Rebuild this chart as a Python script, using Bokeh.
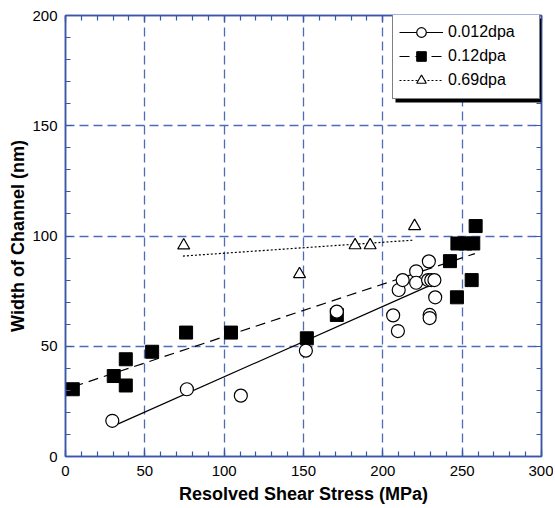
from bokeh.plotting import figure
from bokeh.models import (Legend, LegendItem, LinearAxis, SingleIntervalTicker,
                          BoxAnnotation, CustomJSTickFormatter, Range1d)
from bokeh.embed import file_html
from bokeh.resources import INLINE

# ---- data ----
c012_x = [29.5, 76.5, 110.5, 151.5, 171.0, 206.5, 209.5, 210.0, 212.5, 221.0, 221.0,
          228.5, 229.0, 229.5, 229.5, 230.5, 232.5, 233.0]
c012_y = [16.2, 30.5, 27.6, 48.0, 65.7, 64.0, 56.9, 75.5, 80.0, 84.0, 78.8,
          80.0, 88.5, 64.2, 62.8, 80.0, 80.0, 72.2]

s12_x = [4.6, 30.4, 38.0, 38.0, 54.6, 76.0, 104.3, 152.1, 171.0, 242.3, 246.7,
         247.0, 252.0, 256.0, 257.0, 258.5]
s12_y = [30.5, 36.5, 32.2, 44.1, 47.5, 56.2, 56.2, 53.6, 64.2, 88.6, 72.2,
         96.6, 96.6, 80.0, 96.6, 104.5]

t69_x = [74.5, 147.5, 182.5, 192.0, 220.0]
t69_y = [95.7, 82.7, 95.8, 95.8, 104.5]

fit012_x = [30.4, 232.0]
fit012_y = [13.9, 78.3]
fit12_x = [5.0, 258.0]
fit12_y = [31.7, 92.0]
fit69_x = [74.0, 219.0]
fit69_y = [90.9, 98.1]

labels = ["0.012dpa", "0.12dpa", "0.69dpa"]
x_label = "Resolved Shear Stress (MPa)"
y_label = "Width of Channel (nm)"

FONT = "Liberation Sans"
BLUE = "#3a56a8"
GRID = "#4f6bb8"

p = figure(width=553, height=507, output_backend="svg", toolbar_location=None,
           x_range=Range1d(0, 300), y_range=Range1d(0, 200),
           min_border_left=65, min_border_right=12, min_border_top=15, min_border_bottom=51)
p.background_fill_color = "white"
p.outline_line_color = BLUE
p.outline_line_width = 1.5

def style_axis(ax, show_labels):
    ax.ticker = SingleIntervalTicker(interval=50, num_minor_ticks=5)
    ax.axis_line_color = BLUE
    ax.axis_line_width = 1.5
    ax.major_tick_line_color = BLUE
    ax.minor_tick_line_color = BLUE
    ax.major_tick_line_width = 1.2
    ax.minor_tick_line_width = 1.2
    ax.major_tick_in = 7
    ax.major_tick_out = 0
    ax.minor_tick_in = 5
    ax.minor_tick_out = 0
    if show_labels:
        ax.major_label_text_font = FONT
        ax.major_label_text_font_size = "15px"
        ax.major_label_text_color = "black"
        ax.axis_label_text_font = FONT
        ax.axis_label_text_font_size = "18px"
        ax.axis_label_text_font_style = "bold"
        ax.axis_label_text_color = "black"
    else:
        ax.formatter = CustomJSTickFormatter(code="return ''")
        ax.major_label_text_font_size = "0px"
        ax.major_label_standoff = 0

style_axis(p.xaxis[0], True)
style_axis(p.yaxis[0], True)
p.xaxis[0].axis_label = x_label
p.yaxis[0].axis_label = y_label
p.xaxis[0].major_label_standoff = 9
p.xaxis[0].axis_label_standoff = 5
p.yaxis[0].major_label_standoff = 8
p.yaxis[0].axis_label_standoff = 1

top_ax = LinearAxis()
right_ax = LinearAxis()
style_axis(top_ax, False)
style_axis(right_ax, False)
p.add_layout(top_ax, "above")
p.add_layout(right_ax, "right")

for g in (p.xgrid[0], p.ygrid[0]):
    g.ticker = SingleIntervalTicker(interval=50)
    g.grid_line_color = GRID
    g.grid_line_width = 1.3
    g.grid_line_dash = "9 5"

# fit lines
l1 = p.line(fit012_x, fit012_y, line_color="black", line_width=1.2)
l2 = p.line(fit12_x, fit12_y, line_color="black", line_width=1.2, line_dash="10 6")
l3 = p.line(fit69_x, fit69_y, line_color="black", line_width=1.2, line_dash="2 2")

# markers
m3 = p.scatter(t69_x, t69_y, marker="triangle", size=12, fill_color="white",
               line_color="black", line_width=1.2)
m2 = p.scatter(s12_x, s12_y, marker="square", size=13, fill_color="black",
               line_color="black")
m1 = p.scatter(c012_x, c012_y, marker="circle", size=13, fill_color="white",
               line_color="black", line_width=1.2)

# legend with drop shadow
FW, FH = 476, 441
LW, LH = 146, 84
lx, ly = FW - 3 - LW, FH - LH
shadow = BoxAnnotation(left=lx + 3, right=lx + LW + 3, bottom=ly - 3, top=ly + LH - 3,
                       left_units="screen", right_units="screen",
                       bottom_units="screen", top_units="screen",
                       fill_color="black", fill_alpha=1.0, line_color=None)
p.add_layout(shadow)

legend = Legend(items=[LegendItem(label=labels[0], renderers=[l1, m1]),
                       LegendItem(label=labels[1], renderers=[l2, m2]),
                       LegendItem(label=labels[2], renderers=[l3, m3])],
                location=(lx, ly))
legend.padding = 6
legend.spacing = 0
legend.margin = 0
legend.glyph_width = 44
legend.glyph_height = 24
legend.label_standoff = 5
legend.label_width = 146 - 12 - 44 - 5
legend.label_text_font = FONT
legend.label_text_font_size = "16px"
legend.label_text_color = "black"
legend.border_line_color = "black"
legend.border_line_width = 1.2
legend.background_fill_color = "white"
legend.background_fill_alpha = 1.0
p.add_layout(legend)

open("out.html", "w").write(file_html(p, INLINE))
